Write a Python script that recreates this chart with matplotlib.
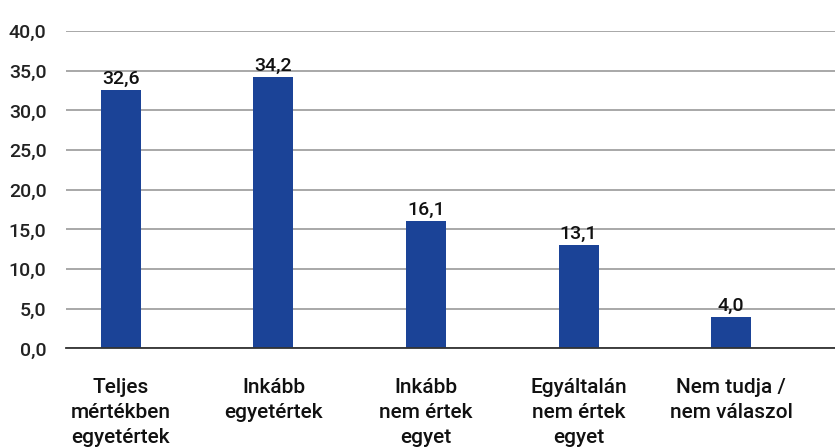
import matplotlib
matplotlib.use("Agg")
import matplotlib.pyplot as plt

categories = ["Teljes\nmértékben\negyetértek", "Inkább\negyetértek",
              "Inkább\nnem értek\negyet", "Egyáltalán\nnem értek\negyet",
              "Nem tudja /\nnem válaszol"]
values = [32.6, 34.2, 16.1, 13.1, 4.0]
yticks = [0, 5, 10, 15, 20, 25, 30, 35, 40]

plt.rcParams['font.family'] = ['Roboto', 'DejaVu Sans']
plt.rcParams['font.weight'] = 'medium'

fig = plt.figure(figsize=(8.35, 4.47), dpi=100)
ax = fig.add_axes([0.079, 0.2204, 0.921, 0.7102])

x = range(len(values))
bars = ax.bar(x, values, width=0.262, color='#1b4397', zorder=3)

# value labels above each bar, decimal comma
for xi, v in zip(x, values):
    ax.annotate(f"{v:.1f}".replace('.', ','), (xi, v), xytext=(0, 1.5),
                textcoords='offset points', ha='center', va='bottom',
                fontsize=14, color='#111111', zorder=4)

ax.set_ylim(0, 40)
ax.set_xlim(-0.36, 4.68)
ax.set_yticks(yticks)
ax.set_yticklabels([f"{t:.1f}".replace('.', ',') for t in yticks],
                   fontsize=14, color='#222222')
ax.set_xticks(list(x))
ax.set_xticklabels(categories, fontsize=15, color='#111111', linespacing=1.4)
ax.tick_params(axis='x', length=0, pad=21)
ax.tick_params(axis='y', length=0, pad=14)

ax.grid(axis='y', color='#999999', linewidth=1.2, zorder=0)
for side in ['top', 'right', 'left']:
    ax.spines[side].set_visible(False)
ax.spines['bottom'].set_color('#333333')
ax.spines['bottom'].set_linewidth(1.3)
ax.spines['bottom'].set_zorder(5)

fig.savefig("out.png", dpi=100)
